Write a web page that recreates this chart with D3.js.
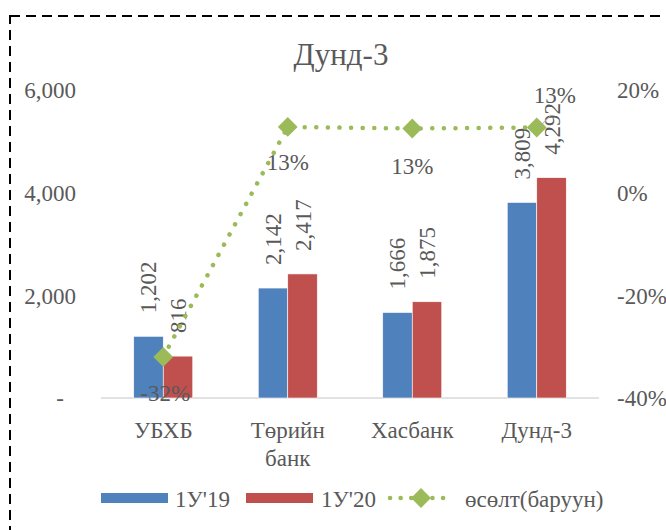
<!DOCTYPE html>
<html>
<head>
<meta charset="utf-8">
<script src="https://cdn.jsdelivr.net/npm/d3@7"></script>
<style>
  body { margin: 0; background: #fff; }
  text { font-family: "Liberation Serif", "Times New Roman", serif; fill: #595959; }
</style>
</head>
<body>
<div id="chart"></div>
<script>
/**
 * DATA
 * */
const categories = [["УБХБ"], ["Төрийн", "банк"], ["Хасбанк"], ["Дунд-3"]];
const series = ["1У'19", "1У'20"];
const values19 = [1202, 2142, 1666, 3809];
const values20 = [816, 2417, 1875, 4292];
const growth = [-0.32, 0.128, 0.125, 0.127];
const growthName = "өсөлт(баруун)";
const leftTicks = [0, 2000, 4000, 6000];
const rightTicks = [-0.4, -0.2, 0, 0.2];

/**
 * CONSTANTS
 * */
const width = 666, height = 530,
  margin = { top: 90, bottom: 132, left: 101, right: 67 },
  colors = ["#4F81BD", "#C0504D"], lineColor = "#9BBB59",
  fs = 23;

const pct = d => Math.round(d * 100) + "%";
const num = d3.format(",");

const svg = d3.select("#chart").append("svg")
  .attr("width", width).attr("height", height);

// dashed frame
svg.append("rect")
  .attr("x", 10).attr("y", 16)
  .attr("width", 700).attr("height", 600)
  .attr("fill", "none").attr("stroke", "#000")
  .attr("stroke-width", 2).attr("stroke-dasharray", "10,6");

svg.append("text")
  .attr("x", 341).attr("y", 65)
  .attr("text-anchor", "middle").attr("font-size", 31)
  .text("Дунд-3");

const keys = categories.map(c => c.join(" "));
const x = d3.scaleBand()
  .domain(keys)
  .range([margin.left, width - margin.right])
  .paddingInner(0.526).paddingOuter(0.263);
const xs = d3.scaleBand().domain(series).range([0, x.bandwidth()]);
const y = d3.scaleLinear().domain([0, 6000]).range([height - margin.bottom, margin.top]);
const y2 = d3.scaleLinear().domain([-0.4, 0.2]).range([height - margin.bottom, margin.top]);

// left axis
svg.append("g")
  .attr("transform", "translate(76,0)")
  .call(d3.axisLeft(y).tickValues(leftTicks).tickSize(0)
    .tickFormat(d => d === 0 ? "-" : num(d)))
  .call(g => g.select(".domain").remove())
  .call(g => g.selectAll("text").attr("font-size", fs).attr("fill", "#595959")
    .attr("font-family", "Liberation Serif").attr("text-anchor", "end")
    .attr("x", d => d === 0 ? -12 : 0).attr("dy", "0.34em"));

// right axis
svg.append("g")
  .attr("transform", "translate(617,0)")
  .call(d3.axisRight(y2).tickValues(rightTicks).tickSize(0).tickFormat(pct))
  .call(g => g.select(".domain").remove())
  .call(g => g.selectAll("text").attr("font-size", fs).attr("fill", "#595959")
    .attr("font-family", "Liberation Serif").attr("x", 0).attr("dy", "0.34em"));

// baseline
svg.append("line")
  .attr("x1", margin.left).attr("x2", width - margin.right)
  .attr("y1", y(0)).attr("y2", y(0))
  .attr("stroke", "#D9D9D9").attr("stroke-width", 1.5);

// bars
const rows = keys.map((k, i) => ({ key: k, vals: [values19[i], values20[i]] }));
const groups = svg.append("g").selectAll("g")
  .data(rows).join("g")
  .attr("transform", d => `translate(${x(d.key)},0)`);

groups.selectAll("rect")
  .data(d => d.vals.map((v, j) => ({ s: series[j], v, j })))
  .join("rect")
  .attr("x", d => xs(d.s))
  .attr("y", d => y(d.v))
  .attr("width", xs.bandwidth())
  .attr("height", d => y(0) - y(d.v))
  .attr("fill", d => colors[d.j])
  .attr("stroke", "#fff").attr("stroke-width", 0.6);

groups.selectAll("text.val")
  .data(d => d.vals.map((v, j) => ({ s: series[j], v })))
  .join("text")
  .attr("class", "val")
  .attr("transform", d => `translate(${xs(d.s) + xs.bandwidth() / 2 + 8},${y(d.v) - 23}) rotate(-90)`)
  .attr("font-size", fs).attr("fill", "#404040")
  .text(d => num(d.v));

// category labels
const cat = svg.append("g").selectAll("text")
  .data(categories).join("text")
  .attr("x", (d, i) => x(keys[i]) + x.bandwidth() / 2)
  .attr("y", 438)
  .attr("text-anchor", "middle").attr("font-size", fs);
cat.selectAll("tspan").data(d => d).join("tspan")
  .attr("x", function () { return this.parentNode.getAttribute("x"); })
  .attr("dy", (d, i) => i === 0 ? 0 : 28)
  .text(d => d);

// growth line
const cx = i => x(keys[i]) + x.bandwidth() / 2;
const line = d3.line().x((d, i) => cx(i)).y(d => y2(d));
svg.append("path")
  .datum(growth)
  .attr("d", line)
  .attr("fill", "none").attr("stroke", lineColor)
  .attr("stroke-width", 4.5).attr("stroke-linecap", "round")
  .attr("stroke-dasharray", "0.1,11.5");

const diamond = d3.symbol().type(d3.symbolDiamond2).size(250);
svg.append("g").selectAll("path")
  .data(growth).join("path")
  .attr("transform", (d, i) => `translate(${cx(i)},${y2(d)})`)
  .attr("d", diamond)
  .attr("fill", lineColor);

// growth labels
const gOff = [[2, 44], [0, 43], [0, 45], [18, -24]];
svg.append("g").selectAll("text")
  .data(growth).join("text")
  .attr("x", (d, i) => cx(i) + gOff[i][0])
  .attr("y", (d, i) => y2(d) + gOff[i][1])
  .attr("text-anchor", "middle").attr("font-size", fs).attr("fill", "#404040")
  .text(pct);

// leader line for last label
svg.append("line")
  .attr("x1", cx(3) + 1).attr("y1", y2(growth[3]) + 1)
  .attr("x2", cx(3) + 14).attr("y2", y2(growth[3]) - 12)
  .attr("stroke", "#A6A6A6").attr("stroke-width", 1);

// legend
const legend = svg.append("g").attr("transform", "translate(0,498)");
legend.selectAll("rect")
  .data(series).join("rect")
  .attr("x", (d, i) => [101, 246][i]).attr("y", -5)
  .attr("width", 67).attr("height", 10)
  .attr("fill", (d, i) => colors[i]);
legend.selectAll("text.s")
  .data(series.concat([growthName])).join("text")
  .attr("class", "s")
  .attr("x", (d, i) => [175, 321, 465][i]).attr("y", 9)
  .attr("font-size", fs)
  .text(d => d);
legend.append("line")
  .attr("x1", 390).attr("x2", 453).attr("y1", 0).attr("y2", 0)
  .attr("stroke", lineColor).attr("stroke-width", 4.5)
  .attr("stroke-linecap", "round").attr("stroke-dasharray", "0.1,10.5");
legend.append("path")
  .attr("transform", "translate(421,0)")
  .attr("d", diamond)
  .attr("fill", lineColor);
</script>
</body>
</html>
